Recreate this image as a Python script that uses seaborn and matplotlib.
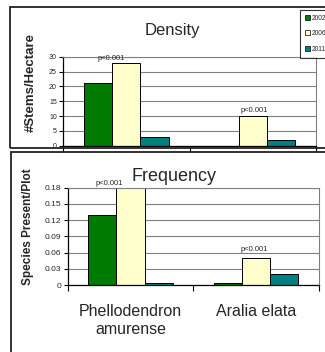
import matplotlib
matplotlib.use("Agg")
import matplotlib.pyplot as plt
import matplotlib.patches as mpatches
import seaborn as sns
import pandas as pd

# ---- data ----
species = ["Phellodendron\namurense", "Aralia elata"]
years = ["2002", "2006", "2011"]
density_2002 = [21, 0]
density_2006 = [28, 10]
density_2011 = [3, 2]
freq_2002 = [0.13, 0.003]
freq_2006 = [0.18, 0.05]
freq_2011 = [0.003, 0.02]
density_ticks = [0, 5, 10, 15, 20, 25, 30]
freq_ticks = [0, 0.03, 0.06, 0.09, 0.12, 0.15, 0.18]
freq_ticklabels = ["0", "0.03", "0.06", "0.09", "0.12", "0.15", "0.18"]
sig_label = "p<0.001"

colors = ["#007A00", "#FFFFCC", "#008080"]

rows = []
for i, sp in enumerate(species):
    for y, d, f in zip(years,
                       [density_2002[i], density_2006[i], density_2011[i]],
                       [freq_2002[i], freq_2006[i], freq_2011[i]]):
        rows.append({"species": sp, "year": y, "density": d, "freq": f})
df = pd.DataFrame(rows)

sns.set_theme(style="white")
plt.rcParams["font.family"] = ["Liberation Sans", "DejaVu Sans"]

W, H = 325, 352
fig = plt.figure(figsize=(W / 100, H / 100), dpi=100)

def fx(px):
    return px / W

def fy(py):
    return 1 - py / H

# chart boxes
fig.patches.append(mpatches.Rectangle((fx(10), fy(148)), fx(340), fy(7) - fy(148),
                                      transform=fig.transFigure, fill=False,
                                      edgecolor="#222222", linewidth=1.3))
fig.patches.append(mpatches.Rectangle((fx(11), fy(360)), fx(340), fy(152) - fy(360),
                                      transform=fig.transFigure, fill=False,
                                      edgecolor="#222222", linewidth=1.3))

ax1 = fig.add_axes([fx(63), fy(145.7), fx(316) - fx(63), fy(56.7) - fy(145.7)])
ax2 = fig.add_axes([fx(67.7), fy(285), fx(319) - fx(67.7), fy(187.7) - fy(285)])

for ax, col in [(ax1, "density"), (ax2, "freq")]:
    sns.barplot(data=df, x="species", y=col, hue="year", hue_order=years,
                order=species, palette=colors, width=0.67, edgecolor="black",
                linewidth=0.7, ax=ax, legend=(ax is ax1), saturation=1, errorbar=None)
    ax.set_xlim(-0.5, 1.5)
    ax.set_xlabel("")
    ax.set_ylabel("")
    ax.grid(axis="y", color="#808080", linewidth=0.8)
    ax.set_axisbelow(True)
    for s in ["top", "right"]:
        ax.spines[s].set_color("#808080")
        ax.spines[s].set_linewidth(0.8)
    for s in ["left", "bottom"]:
        ax.spines[s].set_color("black")
        ax.spines[s].set_linewidth(0.9)
    ax.set_xticks([-0.5, 0.5, 1.5], minor=True)
    ax.tick_params(axis="x", which="minor", length=4, width=0.8, color="black",
                   direction="out", bottom=True)
    ax.tick_params(axis="x", which="major", length=0)
    ax.tick_params(axis="y", length=3, width=0.8, color="black", direction="out",
                   left=True, pad=1.5)

ax1.set_ylim(0, 30)
ax1.set_yticks(density_ticks)
ax1.set_yticklabels([str(t) for t in density_ticks], fontsize=5)
ax1.set_xticklabels([])

ax2.set_ylim(0, 0.18)
ax2.set_yticks(freq_ticks)
ax2.set_yticklabels(freq_ticklabels, fontsize=6)
ax2.set_xticks(range(len(species)))
ax2.set_xticklabels(species, fontsize=11.5)
ax2.tick_params(axis="x", which="major", pad=14)

# significance labels
ax1.text(-0.115, 29.0, sig_label, fontsize=5.5, ha="center", va="baseline", clip_on=False)
ax1.text(1.01, 11.4, sig_label, fontsize=5.5, ha="center", va="baseline", clip_on=False)
ax2.text(-0.171, 0.185, sig_label, fontsize=5.5, ha="center", va="baseline", clip_on=False)
ax2.text(0.983, 0.0635, sig_label, fontsize=5.5, ha="center", va="baseline", clip_on=False)

# titles
fig.text(fx(172.5), fy(35), "Density", fontsize=12, ha="center", va="baseline")
fig.text(fx(174), fy(181), "Frequency", fontsize=13, ha="center", va="baseline")

# y labels
fig.text(fx(31), fy(82.5), "#Stems/Hectare", fontsize=9.5, fontweight="bold",
         rotation=90, ha="center", va="center")
fig.text(fx(27.5), fy(227), "Species Present/Plot", fontsize=8.5, fontweight="bold",
         rotation=90, ha="center", va="center")

# legend
handles, labels = ax1.get_legend_handles_labels()
ax1.get_legend().remove()
leg = fig.legend(handles, labels, loc="upper left",
                 bbox_to_anchor=(fx(300), fy(9.5)), bbox_transform=fig.transFigure,
                 fontsize=4.8, frameon=True, fancybox=False, shadow=False,
                 handlelength=0.75, handleheight=0.75, handletextpad=0.25,
                 labelspacing=1.3, borderpad=0.75, borderaxespad=0)
leg.get_frame().set_edgecolor("black")
leg.get_frame().set_linewidth(0.8)
for h in leg.legend_handles:
    h.set_linewidth(0.5)

fig.savefig("out.png", dpi=100)
